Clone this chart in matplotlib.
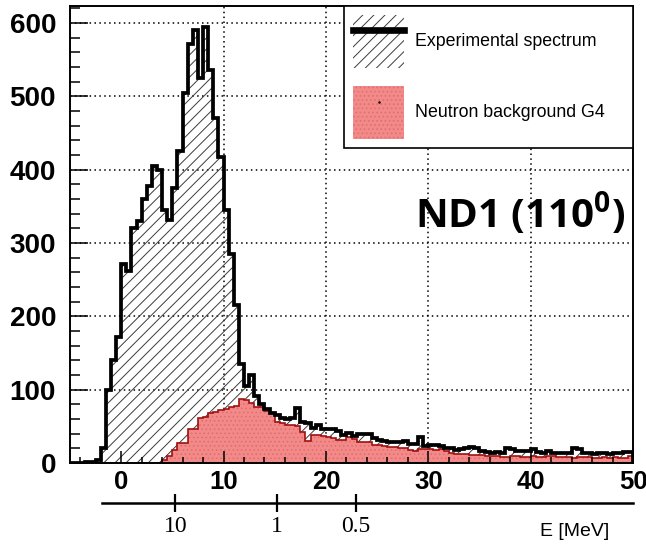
import matplotlib
matplotlib.use('Agg')
import matplotlib.pyplot as plt
import numpy as np
from matplotlib.patches import Patch
from matplotlib.lines import Line2D
from matplotlib.legend_handler import HandlerTuple
from matplotlib.ticker import MultipleLocator

plt.rcParams['font.family'] = ['Liberation Sans', 'DejaVu Sans']
plt.rcParams['hatch.linewidth'] = 0.7
plt.rcParams['mathtext.fontset'] = 'custom'
plt.rcParams['mathtext.bf'] = 'Open Sans:bold'
plt.rcParams['mathtext.rm'] = 'Open Sans'

# histogram binning (0.5 wide bins from -5 to 50)
bin_edges = np.arange(-5, 50.01, 0.5)

# experimental spectrum, counts per bin
exp_counts = [0, 0, 0, 1, 2, 4, 20, 100, 140, 172,
              272, 262, 320, 330, 360, 378, 405, 400, 345, 331,
              375, 425, 505, 572, 590, 525, 595, 536, 470, 418,
              345, 285, 215, 135, 105, 120, 92, 80, 73, 68,
              65, 61, 60, 62, 75, 56, 54, 48, 52, 46,
              46, 46, 43, 38, 41, 37, 40, 40, 40, 34,
              32, 30, 28, 28, 29, 30, 26, 26, 36, 23,
              24, 25, 23, 21, 20, 18, 19, 20, 22, 20,
              17, 15, 13, 15, 13, 20, 19, 17, 17, 16,
              19, 15, 13, 16, 14, 13, 13, 13, 21, 19,
              14, 14, 12, 13, 14, 12, 13, 14, 15, 15]

# neutron background from G4 simulation
bg_counts = [0] * 18 + [
              4, 9, 18, 27, 27, 47, 47, 62, 63, 68, 70, 72,
              74, 77, 78, 87, 86, 82, 77, 76, 71, 68,
              56, 55, 52, 52, 50, 42, 30, 38, 38, 37,
              36, 34, 32, 32, 36, 33, 29, 29, 28, 25,
              25, 23, 22, 22, 20, 20, 18, 16, 19, 19,
              19, 18, 19, 17, 13, 12, 12, 12, 11, 11,
              11, 10, 10, 9, 8, 8, 9, 9, 8, 8,
              9, 8, 8, 9, 9, 8, 8, 8, 7, 8,
              8, 8, 7, 7, 8, 7, 8, 7, 7, 9]

x_ticks = [0, 10, 20, 30, 40, 50]
y_ticks = [0, 100, 200, 300, 400, 500, 600]

# energy scale shown under the time axis
e_tick_pos = [5.3, 15.2, 22.9]
e_tick_labels = ['10', '1', '0.5']

W, H = 646, 546
fig = plt.figure(figsize=(W / 100, H / 100), dpi=100)
ax = fig.add_axes([70 / W, 1 - 463 / H, 563 / W, 457.5 / H])
ax.set_xlim(-5, 50)
ax.set_ylim(0, 624)

# dotted grid drawn under everything
for xv in x_ticks[1:-1]:
    ax.axvline(xv, color='black', lw=1.1, ls=(0, (1, 2.2)), zorder=0.5)
for yv in y_ticks[1:]:
    ax.axhline(yv, color='black', lw=1.1, ls=(0, (1, 2.2)), zorder=0.5)

ax.stairs(exp_counts, bin_edges, fill=True, facecolor='none',
          edgecolor='#3c3c3c', hatch='///', linewidth=0, zorder=1)
ax.stairs(bg_counts, bin_edges, fill=True, facecolor='#f28a8a',
          edgecolor='#e46e6e', hatch='....', linewidth=0, zorder=1.2)
ax.stairs(bg_counts, bin_edges, color='#a01010', lw=1.2, zorder=1.5)
ax.stairs(exp_counts, bin_edges, color='black', lw=2.7, zorder=1.8)

ax.set_xticks(x_ticks)
ax.set_yticks(y_ticks)
ax.xaxis.set_minor_locator(MultipleLocator(2))
ax.yaxis.set_minor_locator(MultipleLocator(20))
ax.tick_params(axis='y', which='major', direction='in', length=13, width=1.1,
               labelsize=20, pad=10)
ax.tick_params(axis='y', which='minor', direction='in', length=7, width=1.1)
ax.tick_params(axis='x', which='major', direction='in', length=8.6, width=1.1,
               labelsize=18.5, pad=5)
ax.tick_params(axis='x', which='minor', direction='in', length=4.3, width=1.1)
for lab in ax.get_xticklabels() + ax.get_yticklabels():
    lab.set_fontweight('bold')
for sp in ax.spines.values():
    sp.set_linewidth(1.4)

# legend
exp_handle = (Patch(facecolor='white', edgecolor='#3c3c3c', hatch='///', linewidth=0),
              Line2D([], [], color='black', lw=4.8))
bg_handle = (Patch(facecolor='#f28a8a', edgecolor='#e46e6e', hatch='....', linewidth=0),
             Line2D([], [], color='black', marker='.', markersize=1.5, lw=0))
leg = ax.legend([exp_handle, bg_handle], ['Experimental spectrum', 'Neutron background G4'],
                handler_map={tuple: HandlerTuple(ndivide=1, pad=0)},
                loc='upper left', bbox_to_anchor=(0.4867, 0.6885, 0.5133, 0.3115),
                mode='expand', borderaxespad=0, fontsize=12.8, fancybox=False,
                framealpha=1, edgecolor='black', handlelength=2.85, handleheight=4.2,
                labelspacing=1.05, borderpad=0.52, handletextpad=0.6)
leg.get_frame().set_linewidth(1.2)
leg.set_zorder(5)

ax.text(0.613, 0.514, r'ND1 (110$^{\mathbf{0}}$)', transform=ax.transAxes,
        fontsize=29, fontweight='bold', family='Open Sans', va='baseline', ha='left')

# secondary energy axis
ax2 = fig.add_axes([70 / W, 1 - 503 / H, 563 / W, 0.0001])
ax2.set_xlim(-5, 50)
ax2.patch.set_visible(False)
ax2.get_yaxis().set_visible(False)
for side in ['top', 'left', 'right']:
    ax2.spines[side].set_visible(False)
ax2.spines['bottom'].set_bounds(-1.9, 50)
ax2.spines['bottom'].set_linewidth(1.8)
ax2.set_xticks(e_tick_pos)
ax2.set_xticklabels(e_tick_labels, family='Liberation Serif', fontsize=17)
ax2.tick_params(axis='x', direction='inout', length=13, width=1.6, pad=3)

fig.text(575 / W, 1 - 531 / H, 'E [MeV]', ha='center', va='center', fontsize=14)

fig.savefig('out.png', dpi=100)
